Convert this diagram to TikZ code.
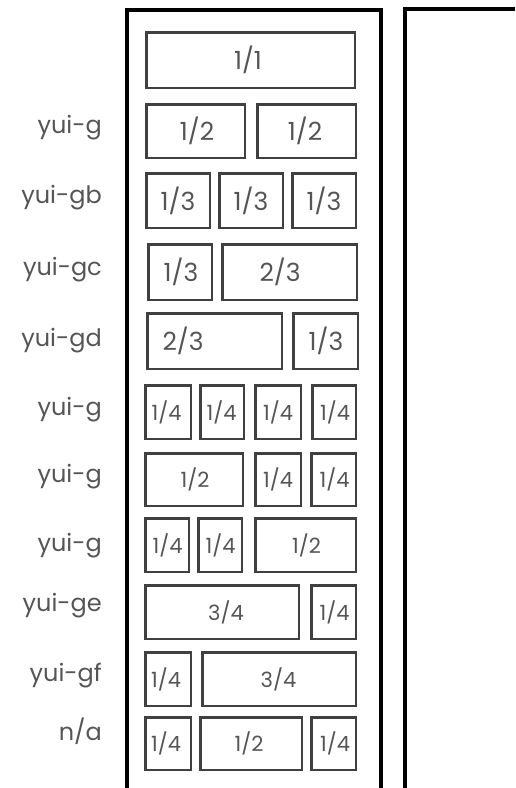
\documentclass[tikz,border=0pt]{standalone}
\usepackage{fontspec}
\setmainfont{Poppins}
\definecolor{txt}{HTML}{555555}
\definecolor{edge}{HTML}{404040}
\tikzset{
 frameline/.style={line width=4pt, black},
 cellbox/.style={draw=edge, line width=2.5pt, inner sep=0pt, rectangle},
 bigtxt/.style={text=txt, font=\fontsize{25}{25}\selectfont, inner sep=0pt},
 smalltxt/.style={text=txt, font=\fontsize{21}{21}\selectfont, inner sep=0pt},
 rowlabel/.style={text=txt, font=\fontsize{24}{24}\selectfont, inner sep=0pt, anchor=mid east},
}
\newcommand\gcell[8]{%
 \node[cellbox, minimum width={#4-#2-2.5}, minimum height={#5-#3-2.5}] (#1) at ({(#2+#4)/2},{(#3+#5)/2}) {};
 \node[#8] (#1t) at ({#6},{(#3+#5)/2}) {#7};
}
\begin{document}
\begin{tikzpicture}[x=1pt,y=-1pt]
\useasboundingbox (0,0) rectangle (515,788);
% frames
\coordinate (fl) at (126.5,788);
\coordinate (fr) at (380.5,788);
\draw[frameline] (fl) |- (380.5,9.5) -- (fr);
\coordinate (gl) at (404.5,788);
\coordinate (gr) at (515,9);
\draw[frameline] (gl) |- (gr);
% row 0
\gcell{a1}{145}{31}{356}{89}{248}{1/1}{bigtxt}
% row 1
\gcell{b1}{145}{103}{246}{159}{197}{1/2}{bigtxt}
\gcell{b2}{256}{103}{357}{159}{305}{1/2}{bigtxt}
\node[rowlabel] (lb) at (102,131) {yui-g};
% row 2
\gcell{c1}{145}{172}{211}{229}{178}{1/3}{bigtxt}
\gcell{c2}{218}{172}{284}{229}{251}{1/3}{bigtxt}
\gcell{c3}{291}{172}{357}{229}{324}{1/3}{bigtxt}
\node[rowlabel] (lc) at (102,201) {yui-gb};
% row 3
\gcell{d1}{147}{243}{213}{301}{181}{1/3}{bigtxt}
\gcell{d2}{221}{243}{358}{301}{280}{2/3}{bigtxt}
\node[rowlabel] (ld) at (102,273) {yui-gc};
% row 4
\gcell{e1}{146}{312}{283}{370}{183}{2/3}{bigtxt}
\gcell{e2}{292}{312}{359}{370}{326}{1/3}{bigtxt}
\node[rowlabel] (le) at (102,344) {yui-gd};
% row 5
\gcell{f1}{144}{384}{192}{440}{166.5}{1/4}{smalltxt}
\gcell{f2}{199}{384}{245}{440}{221.5}{1/4}{smalltxt}
\gcell{f3}{254}{384}{302}{440}{278}{1/4}{smalltxt}
\gcell{f4}{311}{384}{357}{440}{335}{1/4}{smalltxt}
\node[rowlabel] (lf) at (102,413) {yui-g};
% row 6
\gcell{g1}{144}{452}{244}{507}{195}{1/2}{smalltxt}
\gcell{g2}{254}{452}{302}{507}{278}{1/4}{smalltxt}
\gcell{g3}{310}{452}{357}{507}{334.5}{1/4}{smalltxt}
\node[rowlabel] (lg) at (102,480) {yui-g};
% row 7
\gcell{h1}{144}{517}{190}{573}{167.5}{1/4}{smalltxt}
\gcell{h2}{197}{517}{243}{573}{220.5}{1/4}{smalltxt}
\gcell{h3}{254}{517}{357}{573}{306.5}{1/2}{smalltxt}
\node[rowlabel] (lh) at (102,549) {yui-g};
% row 8
\gcell{i1}{144}{584}{300}{640}{226}{3/4}{smalltxt}
\gcell{i2}{310}{584}{357}{640}{334.5}{1/4}{smalltxt}
\node[rowlabel] (li) at (102,609) {yui-ge};
% row 9
\gcell{j1}{144}{651}{192}{707}{166}{1/4}{smalltxt}
\gcell{j2}{201}{651}{357}{707}{278.5}{3/4}{smalltxt}
\node[rowlabel] (lj) at (102,679) {yui-gf};
% row 10
\gcell{k1}{144}{716}{192}{771}{166}{1/4}{smalltxt}
\gcell{k2}{199}{716}{303}{771}{249}{1/2}{smalltxt}
\gcell{k3}{310}{716}{357}{771}{335}{1/4}{smalltxt}
\node[rowlabel] (lk) at (102,738) {n/a};
\end{tikzpicture}
\end{document}
